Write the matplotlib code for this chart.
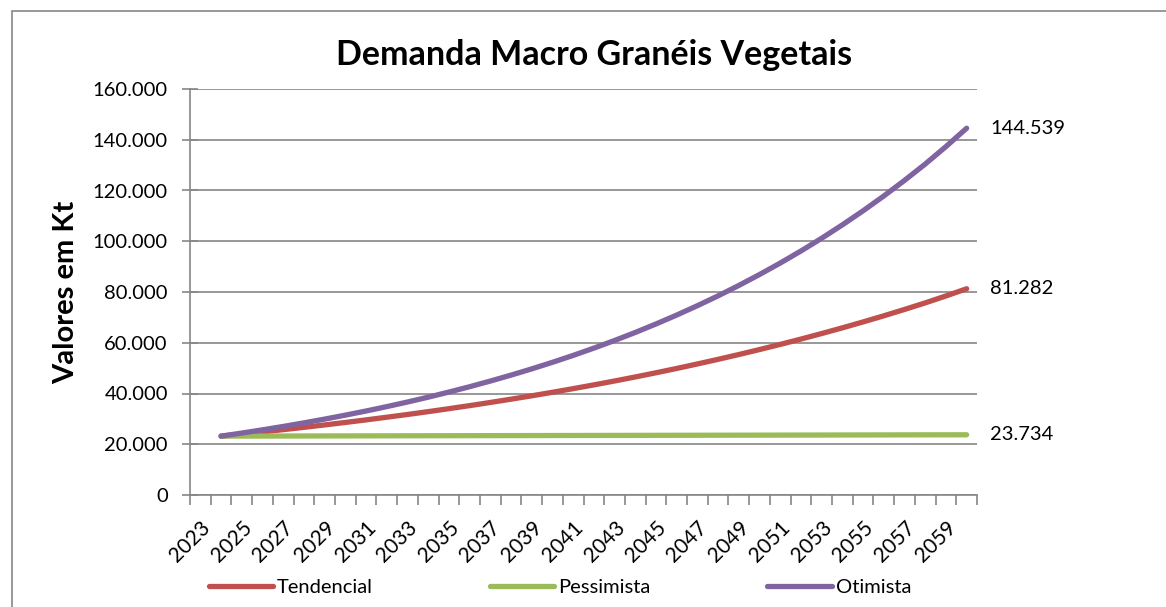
import numpy as np
import matplotlib.pyplot as plt
from matplotlib.ticker import FuncFormatter, FixedLocator
from matplotlib.patches import Rectangle

plt.rcParams['font.family'] = ['Lato', 'DejaVu Sans']

anos = list(range(2024, 2061))

tendencial = [23200, 24020, 24870, 25750, 26660, 27610, 28590, 29600, 30650, 31730,
              32850, 34020, 35220, 36470, 37760, 39090, 40480, 41910, 43400, 44930,
              46520, 48170, 49870, 51640, 53470, 55360, 57320, 59350, 61450, 63630,
              65880, 68210, 70620, 73120, 75710, 78440, 81282]

pessimista = [23200, 23215, 23230, 23245, 23260, 23275, 23290, 23305, 23320, 23335,
              23350, 23365, 23380, 23395, 23410, 23425, 23440, 23455, 23470, 23485,
              23500, 23515, 23530, 23545, 23560, 23575, 23590, 23605, 23620, 23635,
              23650, 23665, 23680, 23695, 23710, 23722, 23734]

otimista = [23200, 24410, 25680, 27020, 28430, 29910, 31470, 33100, 34830, 36640,
            38550, 40560, 42670, 44900, 47240, 49700, 52290, 55010, 57880, 60890,
            64060, 67400, 70910, 74610, 78490, 82580, 86890, 91410, 96170, 101180,
            106460, 112000, 117840, 123980, 130430, 137300, 144539]

series = [
    ('Tendencial', tendencial, '#C0504D'),
    ('Pessimista', pessimista, '#9BBB59'),
    ('Otimista', otimista, '#8064A2'),
]

rotulos_anos = list(range(2023, 2060, 2))

fig = plt.figure(figsize=(11.66, 6.07), dpi=100)
ax = fig.add_axes([190 / 1166, 1 - 495 / 607, (977 - 190) / 1166, (495 - 89) / 607])

# moldura externa do grafico
fig.patches.append(Rectangle((12 / 1166, -0.05), 1.1, 1 - 11 / 607 + 0.05,
                             transform=fig.transFigure, fill=False,
                             edgecolor='#868686', linewidth=1.2))

for nome, vals, cor in series:
    ax.plot(anos, vals, color=cor, linewidth=3.8, solid_capstyle='round', label=nome)
    ax.annotate(f"{vals[-1]:,}".replace(',', '.'), xy=(anos[-1], vals[-1]),
                xytext=(17, 0), textcoords='offset points', va='center', ha='left',
                fontsize=14.5, annotation_clip=False)

ax.set_xlim(2022.5, 2060.5)
ax.set_ylim(0, 160000)
ax.set_yticks(np.arange(0, 160001, 20000))
ax.yaxis.set_major_formatter(FuncFormatter(lambda v, p: f"{int(v):,}".replace(',', '.')))
ax.grid(axis='y', color='#868686', linewidth=1.2)
ax.set_axisbelow(True)

ax.xaxis.set_major_locator(FixedLocator(rotulos_anos))
ax.set_xticklabels([str(a) for a in rotulos_anos], rotation=45, ha='right',
                   rotation_mode='anchor')
ax.xaxis.set_minor_locator(FixedLocator(np.arange(2022.5, 2061, 1)))
ax.tick_params(axis='x', which='major', length=0, pad=16, labelsize=15)
ax.tick_params(axis='x', which='minor', length=7, color='#868686', width=1.2)
ax.tick_params(axis='y', length=12, direction='inout', color='#868686', width=1.2,
               labelsize=14.5, pad=10)

for s in ['top', 'right']:
    ax.spines[s].set_visible(False)
for s in ['left', 'bottom']:
    ax.spines[s].set_color('#868686')
    ax.spines[s].set_linewidth(1.2)

ax.set_ylabel('Valores em Kt', fontsize=21, fontweight='bold', labelpad=10)
fig.text(594 / 1166, 1 - 55 / 607, 'Demanda Macro Granéis Vegetais',
         ha='center', va='center', fontsize=24.5, fontweight='bold')

fig.legend(loc='center', bbox_to_anchor=(560 / 1166, 1 - 587 / 607), ncol=3,
           frameon=False, fontsize=14.5, handlelength=3.2, columnspacing=5.8,
           handletextpad=0.2)

fig.savefig('out.png', dpi=100)
